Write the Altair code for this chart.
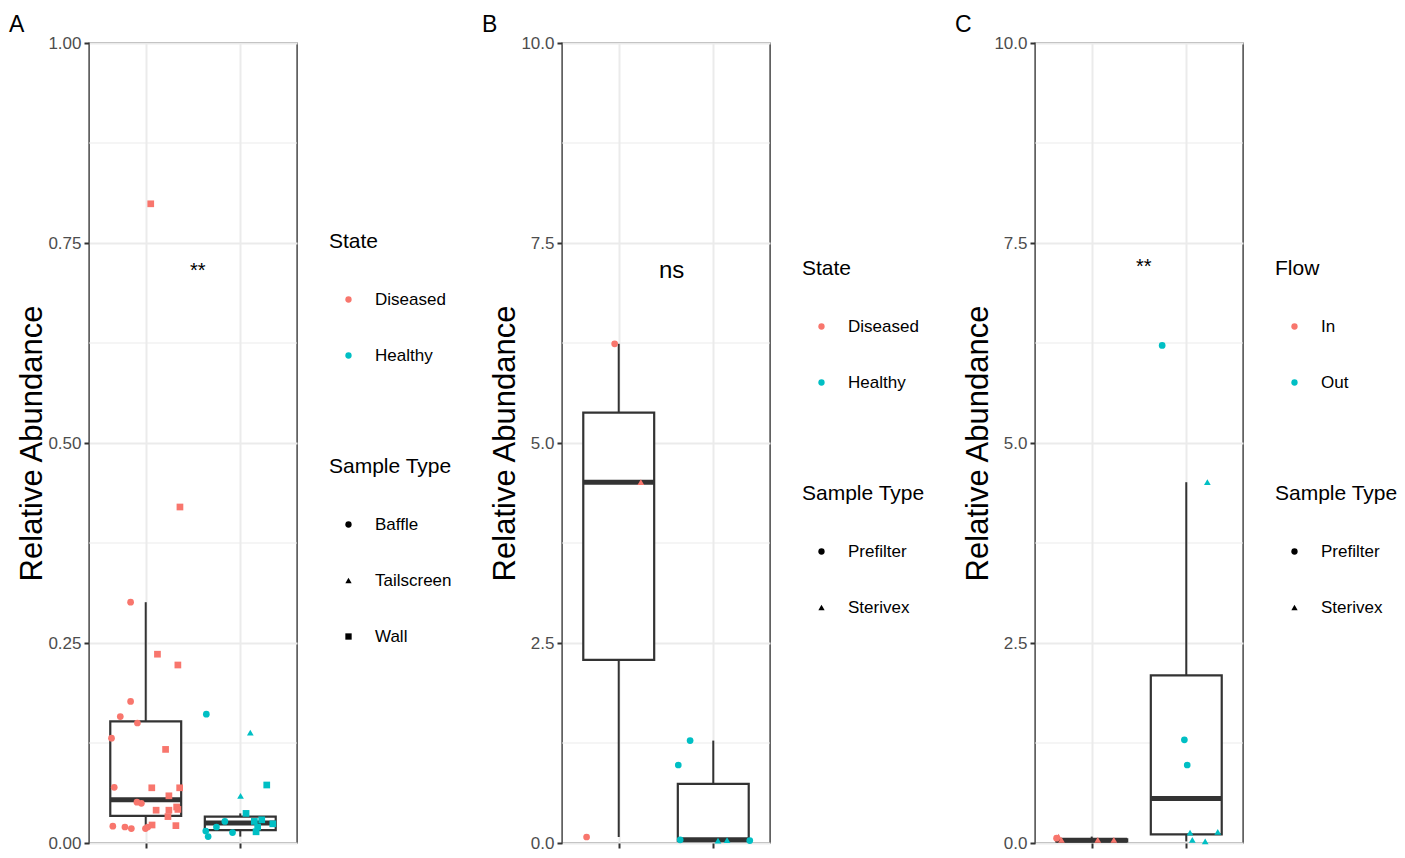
import altair as alt
import pandas as pd

FONT = "Liberation Sans, Arial, sans-serif"
RED = "#F8766D"
TEAL = "#00BFC4"

# ---------------- Panel A data ----------------
a_xpos = [1.053, 1.362, 0.840, 1.124, 1.340, 0.840, 0.731, 0.912, 0.638, 1.210,
          0.667, 1.064, 1.359, 1.245, 0.907, 0.954, 1.110, 1.245, 1.235, 1.327,
          1.340, 0.652, 0.780, 0.848, 0.997, 1.021, 1.067, 1.319,
          1.641, 2.106, 2.280, 2.003, 2.061, 2.344, 1.635, 1.660, 1.748, 1.837,
          1.918, 2.149, 2.167, 2.227, 2.184]
a_value = [0.799, 0.420, 0.301, 0.236, 0.2225, 0.177, 0.158, 0.150, 0.131, 0.117,
           0.0696, 0.069, 0.069, 0.059, 0.051, 0.0496, 0.041, 0.041, 0.033, 0.045,
           0.042, 0.021, 0.020, 0.018, 0.018, 0.020, 0.0225, 0.0217,
           0.161, 0.138, 0.0725, 0.059, 0.037, 0.024, 0.015, 0.008, 0.020, 0.027,
           0.013, 0.027, 0.014, 0.029, 0.020]
a_state = ["Diseased"] * 28 + ["Healthy"] * 15
a_type = ["Wall", "Wall", "Baffle", "Wall", "Wall", "Baffle", "Baffle", "Baffle", "Baffle", "Wall",
          "Baffle", "Wall", "Wall", "Wall", "Baffle", "Baffle", "Wall", "Wall", "Wall", "Wall",
          "Wall", "Baffle", "Baffle", "Baffle", "Baffle", "Baffle", "Wall", "Wall",
          "Baffle", "Tailscreen", "Wall", "Tailscreen", "Wall", "Wall", "Baffle", "Baffle", "Baffle", "Baffle",
          "Baffle", "Wall", "Wall", "Wall", "Wall"]
a_groups = ["Diseased", "Healthy"]
a_types = ["Baffle", "Tailscreen", "Wall"]
a_q1 = [0.034, 0.016]
a_med = [0.054, 0.025]
a_q3 = [0.152, 0.033]
a_wlo = [0.018, 0.008]
a_whi = [0.301, 0.037]
a_ticks = [0.0, 0.25, 0.5, 0.75, 1.0]
a_minor = [0.125, 0.375, 0.625, 0.875]
a_label = ["**"]
a_label_x = [1.55]
a_label_y = [0.715]

# ---------------- Panel B data ----------------
b_xpos = [0.660, 0.957, 1.234, 1.755, 1.630, 1.650, 2.050, 2.146, 2.386]
b_value = [0.075, 6.24, 4.51, 1.28, 0.975, 0.04, 0.03, 0.035, 0.03]
b_state = ["Diseased"] * 3 + ["Healthy"] * 6
b_type = ["Prefilter", "Prefilter", "Sterivex", "Prefilter", "Prefilter", "Prefilter",
          "Sterivex", "Sterivex", "Prefilter"]
b_groups = ["Diseased", "Healthy"]
b_types = ["Prefilter", "Sterivex"]
b_q1 = [2.29, 0.025]
b_med = [4.51, 0.04]
b_q3 = [5.38, 0.74]
b_wlo = [0.075, 0.02]
b_whi = [6.24, 1.28]
b_ticks = [0.0, 2.5, 5.0, 7.5, 10.0]
b_minor = [1.25, 3.75, 6.25, 8.75]
b_label = ["ns"]
b_label_x = [1.56]
b_label_y = [7.15]

# ---------------- Panel C data ----------------
c_xpos = [0.628, 0.649, 0.680, 1.064, 1.234,
          1.745, 2.223, 1.980, 2.010, 2.040, 2.064, 2.200, 2.333]
c_value = [0.06, 0.08, 0.04, 0.04, 0.04,
           6.22, 4.51, 1.29, 0.975, 0.13, 0.04, 0.02, 0.14]
c_flow = ["In"] * 5 + ["Out"] * 8
c_type = ["Prefilter", "Sterivex", "Sterivex", "Sterivex", "Sterivex",
          "Prefilter", "Sterivex", "Prefilter", "Prefilter", "Sterivex", "Sterivex", "Sterivex", "Sterivex"]
c_groups = ["In", "Out"]
c_types = ["Prefilter", "Sterivex"]
c_q1 = [0.02, 0.1075]
c_med = [0.035, 0.5575]
c_q3 = [0.045, 2.095]
c_wlo = [0.02, 0.02]
c_whi = [0.08, 4.51]
c_ticks = [0.0, 2.5, 5.0, 7.5, 10.0]
c_minor = [1.25, 3.75, 6.25, 8.75]
c_label = ["**"]
c_label_x = [1.55]
c_label_y = [7.2]

SHAPE_MAP = {"Baffle": "circle", "Tailscreen": "triangle-up", "Wall": "square",
             "Prefilter": "circle", "Sterivex": "triangle-up"}
BOX_HALF = 0.375


def panel(letter, xpos, value, grp, stype, groups, types, q1, med, q3, wlo, whi,
          ticks, minor, label, label_x, label_y, label_size, fmt, color_title,
          leg_y1, leg_y2):
    ymax = ticks[-1]
    xscale = alt.Scale(domain=[0.4, 2.6], nice=False, zero=False)
    yscale = alt.Scale(domain=[0, ymax], nice=False, zero=False)
    xaxis = alt.Axis(values=[1, 2], labels=False, ticks=True, grid=True,
                     gridColor="#EBEBEB", gridWidth=2, title=None)
    yaxis = alt.Axis(values=ticks, format=fmt, grid=True, gridColor="#EBEBEB",
                     gridWidth=2, title="Relative Abundance", labelFlush=False,
                     titleX=-57, titleY=400, titleAngle=270,
                     titleAlign="center", titleBaseline="middle")

    pts = pd.DataFrame({"xpos": xpos, "value": value, "grp": grp, "stype": stype})
    centers = [1, 2]
    box = pd.DataFrame({
        "xc": centers,
        "xlo": [c - BOX_HALF for c in centers],
        "xhi": [c + BOX_HALF for c in centers],
        "q1": q1, "med": med, "q3": q3, "wlo": wlo, "whi": whi,
    })
    minor_df = pd.DataFrame({"value": minor, "xpos": [1.0] * len(minor)})
    lab = pd.DataFrame({"xpos": label_x, "value": label_y, "label": label})

    grid_minor = alt.Chart(minor_df).mark_rule(color="#EBEBEB", strokeWidth=1).encode(
        y=alt.Y("value:Q", scale=yscale, axis=yaxis)
    )
    rect = alt.Chart(box).mark_rect(fill="white", stroke="#333333", strokeWidth=2.2).encode(
        x=alt.X("xlo:Q", scale=xscale, axis=xaxis),
        x2="xhi:Q",
        y=alt.Y("q1:Q", scale=yscale, axis=yaxis),
        y2="q3:Q",
    )
    whisk_hi = alt.Chart(box).mark_rule(color="#333333", strokeWidth=2).encode(
        x=alt.X("xc:Q", scale=xscale, axis=xaxis),
        y=alt.Y("whi:Q", scale=yscale, axis=yaxis),
        y2="q3:Q",
    )
    whisk_lo = alt.Chart(box).mark_rule(color="#333333", strokeWidth=2).encode(
        x=alt.X("xc:Q", scale=xscale, axis=xaxis),
        y=alt.Y("wlo:Q", scale=yscale, axis=yaxis),
        y2="q1:Q",
    )
    median = alt.Chart(box).mark_rule(color="#333333", strokeWidth=5).encode(
        x=alt.X("xlo:Q", scale=xscale, axis=xaxis),
        x2="xhi:Q",
        y=alt.Y("med:Q", scale=yscale, axis=yaxis),
    )
    points = alt.Chart(pts).mark_point(filled=True, opacity=1, size=45, strokeWidth=0).encode(
        x=alt.X("xpos:Q", scale=xscale, axis=xaxis),
        y=alt.Y("value:Q", scale=yscale, axis=yaxis),
        color=alt.Color("grp:N", scale=alt.Scale(domain=groups, range=[RED, TEAL]),
                        legend=alt.Legend(title=color_title, orient="none", legendX=240, legendY=leg_y1,
                                          symbolType="circle", symbolSize=40,
                                          symbolOffset=11, labelOffset=18,
                                          rowPadding=38, titlePadding=39,
                                          symbolStrokeWidth=0)),
        shape=alt.Shape("stype:N", scale=alt.Scale(domain=types, range=[SHAPE_MAP[t] for t in types]),
                        legend=alt.Legend(title="Sample Type", orient="none", legendX=240, legendY=leg_y2,
                                          symbolSize=40, symbolFillColor="black",
                                          symbolStrokeColor="black", symbolStrokeWidth=0,
                                          symbolOffset=11, labelOffset=18,
                                          rowPadding=38, titlePadding=39)),
    )
    text = alt.Chart(lab).mark_text(font=FONT, fontSize=label_size, color="black",
                                    baseline="middle", align="center").encode(
        x=alt.X("xpos:Q", scale=xscale, axis=xaxis),
        y=alt.Y("value:Q", scale=yscale, axis=yaxis),
        text="label:N",
    )
    return alt.layer(grid_minor, rect, whisk_hi, whisk_lo, median, points, text).resolve_scale(
        color="independent", shape="independent"
    ).properties(
        width=208, height=800,
        title=alt.TitleParams(letter, anchor="start", frame="group", dx=-80, offset=-21, font=FONT,
                              fontSize=23, fontWeight="normal", color="black",
                              baseline="alphabetic"),
    )


pA = panel("A", a_xpos, a_value, a_state, a_type, a_groups, a_types, a_q1, a_med, a_q3,
           a_wlo, a_whi, a_ticks, a_minor, a_label, a_label_x, a_label_y, 20, ".2f", "State", 188, 413)
pB = panel("B", b_xpos, b_value, b_state, b_type, b_groups, b_types, b_q1, b_med, b_q3,
           b_wlo, b_whi, b_ticks, b_minor, b_label, b_label_x, b_label_y, 24, ".1f", "State", 215, 440)
pC = panel("C", c_xpos, c_value, c_flow, c_type, c_groups, c_types, c_q1, c_med, c_q3,
           c_wlo, c_whi, c_ticks, c_minor, c_label, c_label_x, c_label_y, 20, ".1f", "Flow", 215, 440)

chart = alt.hconcat(pA, pB, pC, spacing=265, bounds="flush").resolve_scale(
    color="independent", shape="independent", x="independent", y="independent"
).properties(
    padding={"left": 8, "top": 13, "right": 0, "bottom": 0},
    background="white",
).configure_view(
    stroke="#3A3A3A", strokeWidth=1.4
).configure_axis(
    domain=False, tickColor="#333333", tickSize=5, tickWidth=2,
    labelColor="#4D4D4D", labelFont=FONT, labelFontSize=17, labelPadding=3,
    titleFont=FONT, titleFontSize=31, titleFontWeight="normal", titleColor="black",
).configure_legend(
    titleFont=FONT, titleFontSize=21, titleFontWeight="normal", titleColor="black",
    labelFont=FONT, labelFontSize=17, labelColor="black",
)

chart.save("out.html", embed_options={"renderer": "svg", "actions": False})
